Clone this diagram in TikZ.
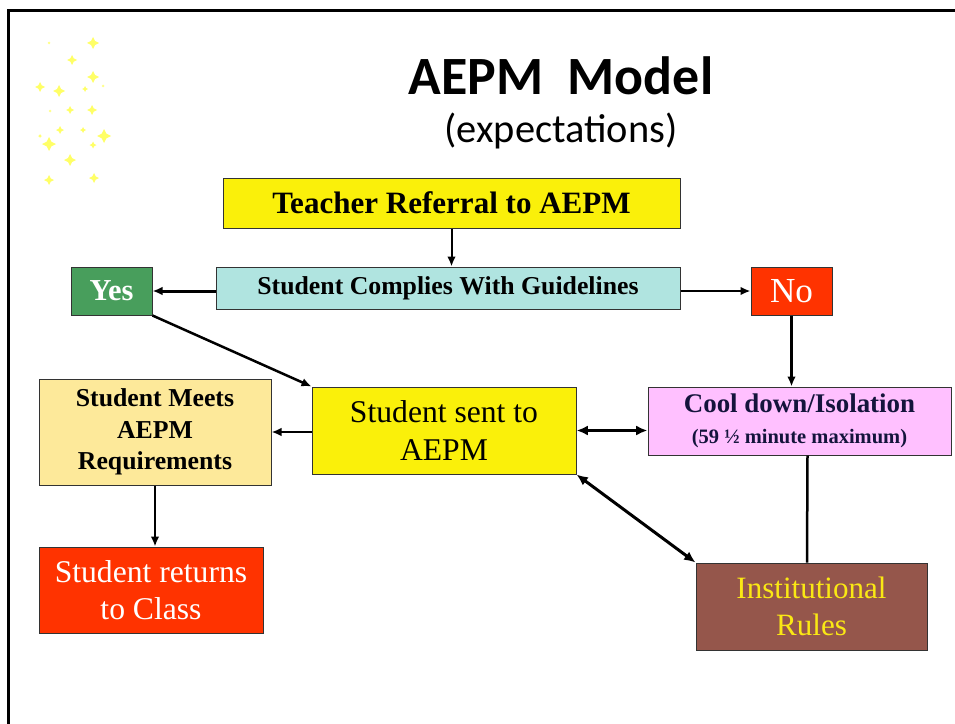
\documentclass[tikz,border=0pt]{standalone}
\usepackage{fontspec}
\usepackage{xcolor}
\usetikzlibrary{arrows.meta}
\setmainfont{Liberation Serif}
\newfontfamily\titlefont{Carlito}

\definecolor{boxyellow}{RGB}{250,240,10}
\definecolor{boxteal}{RGB}{176,228,224}
\definecolor{boxgreen}{RGB}{72,158,92}
\definecolor{boxred}{RGB}{255,51,0}
\definecolor{boxcream}{RGB}{253,233,154}
\definecolor{boxpink}{RGB}{255,192,255}
\definecolor{boxbrown}{RGB}{149,86,75}
\definecolor{rulesyellow}{RGB}{250,232,20}
\definecolor{coolnavy}{RGB}{20,20,60}
\definecolor{sparkyellow}{RGB}{255,255,102}

\tikzset{
    box/.style={draw=black!80, line width=0.3mm, align=center, inner sep=0pt},
    flow/.style={-{Latex[length=3mm,width=2.6mm]}, line width=0.6mm},
    bothflow/.style={{Latex[length=3.4mm,width=3mm]}-{Latex[length=3.4mm,width=3mm]}, line width=0.9mm},
    spark/.style={fill=sparkyellow}
}

\newcommand{\sparkle}[3]{\fill[spark] (#1-#3,#2) -- (#1-#3/3,#2-#3/3) -- (#1,#2-#3) -- (#1+#3/3,#2-#3/3) -- (#1+#3,#2) -- (#1+#3/3,#2+#3/3) -- (#1,#2+#3) -- (#1-#3/3,#2+#3/3) -- cycle;}

\begin{document}
\begin{tikzpicture}[x=0.3mm,y=-0.3mm]
        \useasboundingbox (0,0) rectangle (955,724);
        % slide frame
        \draw[line width=0.9mm] (8,724) -- (8,11) -- (955,11);

        % sparkles
        \sparkle{93}{43}{6}
        \sparkle{72}{60}{5}
        \sparkle{49}{43}{1.5}
        \sparkle{93}{77}{6}
        \sparkle{40}{87}{5}
        \sparkle{59}{91}{6}
        \sparkle{85}{89}{3}
        \sparkle{103}{86}{1.5}
        \sparkle{70}{110}{4}
        \sparkle{92}{110}{5}
        \sparkle{50}{111}{1.5}
        \sparkle{60}{130}{4}
        \sparkle{83}{130}{3}
        \sparkle{104}{136}{7}
        \sparkle{40}{136}{2}
        \sparkle{49}{144}{7}
        \sparkle{93}{145}{3.5}
        \sparkle{70}{160}{6}
        \sparkle{49}{180}{5}
        \sparkle{94}{178}{5}

        % title
        \node (title) at (561,76) {\titlefont\fontsize{46}{50}\selectfont\bfseries AEPM\ \ Model};
        \node (subtitle) at (561,131) {\titlefont\fontsize{34.5}{38}\selectfont (expectations)};

        % boxes
        \node[box, fill=boxyellow, minimum width={457*0.3mm}, minimum height={50*0.3mm}, font=\fontsize{26.5}{30}\selectfont\bfseries] (referral) at (451.5,203) {Teacher Referral to AEPM};
        \node[box, fill=boxteal, minimum width={464*0.3mm}, minimum height={42*0.3mm}, font=\fontsize{22}{25}\selectfont\bfseries] (complies) at (448,288) {Student Complies With Guidelines};
        \node[box, fill=boxgreen, text=white, minimum width={81*0.3mm}, minimum height={48*0.3mm}, font=\fontsize{26}{30}\selectfont\bfseries] (yes) at (111.5,291) {Yes};
        \node[box, fill=boxred, text=white, minimum width={81*0.3mm}, minimum height={48*0.3mm}, font=\fontsize{30}{34}\selectfont] (no) at (791.5,291) {No};
        \node[box, fill=boxcream, minimum width={232*0.3mm}, minimum height={106*0.3mm}, font=\fontsize{22}{27}\selectfont\bfseries] (meets) at (155,432) {Student Meets\\AEPM\\Requirements};
        \node[box, fill=boxyellow, minimum width={264*0.3mm}, minimum height={87*0.3mm}, font=\fontsize{27}{32}\selectfont] (sent) at (444,430.5) {Student sent to\\AEPM};
        \node[box, fill=boxpink, text=coolnavy, minimum width={303*0.3mm}, minimum height={68*0.3mm}, font=\fontsize{23}{26}\selectfont\bfseries] (cool) at (799.5,421) {Cool down/Isolation\\{\fontsize{17.5}{24}\selectfont (59 ½ minute maximum)}};
        \node[box, fill=boxred, text=white, minimum width={224*0.3mm}, minimum height={86*0.3mm}, font=\fontsize{27}{32}\selectfont] (returns) at (151,590) {Student returns\\to Class};
        \node[box, fill=boxbrown, text=rulesyellow, minimum width={231*0.3mm}, minimum height={87*0.3mm}, font=\fontsize{26.5}{32}\selectfont] (rules) at (811.5,606.5) {Institutional\\Rules};

        % connectors
        \draw[flow] (referral.south) -- (complies.north -| referral.south);
        \draw[flow, line width=0.9mm] (complies.west |- yes.east) -- (yes.east);
        \draw[flow] (complies.east |- no.west) -- (no.west);
        \draw[flow, line width=0.9mm] (no.south) -- (cool.north -| no.south);
        \draw[flow, line width=0.75mm] (yes.south east) -- (sent.north west);
        \draw[flow] (sent.west |- meets.east) -- (meets.east);
        \draw[bothflow] (sent.east) -- (cool.west |- sent.east);
        \draw[bothflow] (sent.south east) -- (rules.north west);
        \draw[line width=0.75mm] ([xshift={8*0.3mm}]cool.south) -- ([xshift={-4.5*0.3mm}]rules.north);
        \draw[flow] (meets.south) -- (returns.north -| meets.south);
\end{tikzpicture}
\end{document}
